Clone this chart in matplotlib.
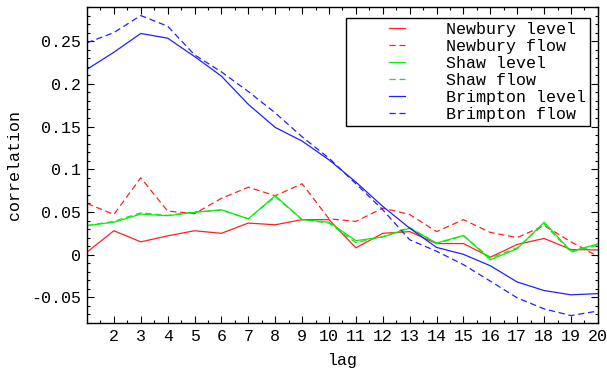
#!/usr/bin/env python3
# coding: utf-8

import matplotlib
matplotlib.use('Agg')
import matplotlib.pyplot as plt
from matplotlib.legend_handler import HandlerLine2D
from matplotlib.ticker import MultipleLocator, FuncFormatter
import numpy as np

lags = list(range(1, 21))

newbury_level = [0.003, 0.028, 0.015, 0.022, 0.028, 0.025, 0.037, 0.035, 0.041, 0.041,
                 0.008, 0.025, 0.027, 0.013, 0.013, -0.003, 0.012, 0.019, 0.006, 0.0055]
newbury_flow = [0.060, 0.047, 0.090, 0.051, 0.048, 0.066, 0.079, 0.069, 0.083, 0.042,
                0.039, 0.0545, 0.047, 0.027, 0.041, 0.026, 0.020, 0.034, 0.015, -0.002]
shaw_level = [0.034, 0.038, 0.0475, 0.0456, 0.0495, 0.0526, 0.042, 0.069, 0.041, 0.038,
              0.0164, 0.0207, 0.031, 0.0136, 0.0226, -0.006, 0.007, 0.038, 0.004, 0.0125]
shaw_flow = [0.034, 0.039, 0.049, 0.046, 0.050, 0.052, 0.042, 0.068, 0.041, 0.037,
             0.014, 0.021, 0.032, 0.013, 0.022, -0.004, 0.008, 0.036, 0.003, 0.011]
brimpton_level = [0.217, 0.237, 0.259, 0.2535, 0.232, 0.209, 0.176, 0.149, 0.133, 0.111,
                  0.085, 0.0565, 0.031, 0.0085, 0.0004, -0.013, -0.032, -0.042, -0.047, -0.0456]
brimpton_flow = [0.248, 0.260, 0.280, 0.2675, 0.234, 0.214, 0.191, 0.166, 0.138, 0.113,
                 0.083, 0.0526, 0.0175, 0.004, -0.0117, -0.031, -0.0506, -0.0635, -0.0713, -0.066]

series = [
    ('Newbury level', newbury_level, '#ff2020', '-'),
    ('Newbury flow', newbury_flow, '#ff2020', '--'),
    ('Shaw level', shaw_level, '#10e810', '-'),
    ('Shaw flow', shaw_flow, '#10e810', '--'),
    ('Brimpton level', brimpton_level, '#2020ff', '-'),
    ('Brimpton flow', brimpton_flow, '#2020ff', '--'),
]

plt.rcParams['font.family'] = ['Liberation Mono', 'DejaVu Sans Mono']
plt.rcParams['font.size'] = 12

fig = plt.figure(figsize=(6.07, 3.68), dpi=100)
ax = fig.add_axes([0.1433, 0.1223, 0.8417, 0.8587])

for name, vals, col, ls in series:
    ax.plot(lags, vals, color=col, linestyle=ls, linewidth=0.9,
            dashes=(5, 3) if ls == '--' else (None, None), label=name)

ax.set_xlim(1, 20)
ax.set_ylim(-0.08, 0.29)
ax.set_xticks(range(2, 21))
ax.xaxis.set_minor_locator(MultipleLocator(0.5))
ax.yaxis.set_major_locator(MultipleLocator(0.05))
ax.yaxis.set_minor_locator(MultipleLocator(0.01))
ax.yaxis.set_major_formatter(FuncFormatter(lambda v, p: '%g' % round(v, 4)))
ax.tick_params(which='both', direction='in', top=True, right=True, width=0.8)
ax.tick_params(which='major', length=5, pad=4)
ax.tick_params(which='minor', length=2.5)
for s in ax.spines.values():
    s.set_linewidth(1.0)

ax.set_xlabel('lag', labelpad=7)
ax.set_ylabel('correlation', labelpad=7)

# short handle set well in from the left edge of the legend box
handler = HandlerLine2D(xpad=2.3)
leg = ax.legend(loc='upper right', bbox_to_anchor=(0.984, 0.965), borderaxespad=0,
                handlelength=3.27, handletextpad=2.45, labelspacing=0.12,
                borderpad=0.25, fancybox=False, framealpha=1, edgecolor='black',
                handler_map={plt.Line2D: handler})
leg.get_frame().set_linewidth(1.0)

fig.savefig('out.png', dpi=100)
